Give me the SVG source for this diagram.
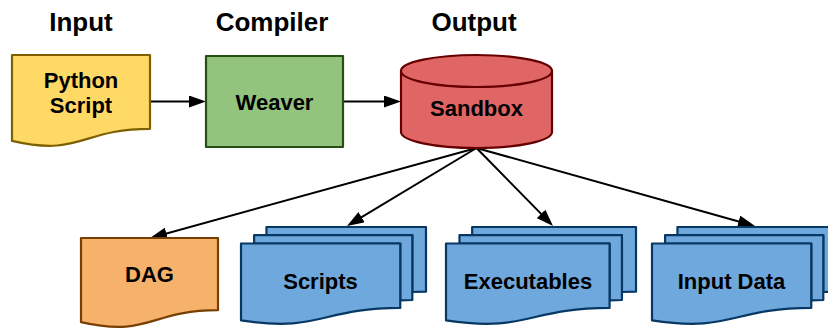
<svg xmlns="http://www.w3.org/2000/svg" width="828" height="330" viewBox="0 0 828 330">
  <style>
    text { font-family: "Liberation Sans", Arial, sans-serif; font-weight: bold; fill: #000; text-anchor: middle; }
    .hdr { font-size: 26px; }
    .lbl { font-size: 22px; }
    .shape { stroke-width: 2.2; stroke-linejoin: round; }
    .yellow { fill: #ffd966; stroke: #7f6000; }
    .green { fill: #93c47d; stroke: #274e13; }
    .red { fill: #e06666; stroke: #660000; }
    .orange { fill: #f6b26b; stroke: #783f04; }
    .blue { fill: #6fa8dc; stroke: #073763; }
    .edge { stroke: #000; stroke-width: 2; fill: none; marker-end: url(#arrow); }
  </style>
  <defs>
    <marker id="arrow" markerUnits="userSpaceOnUse" markerWidth="17" markerHeight="12" refX="13" refY="6" orient="auto">
      <path d="M0,0 L17,6 L0,12 Z" fill="#000"/>
    </marker>
    <!-- stacked pages, 185 wide -->
    <g id="pages185">
      <path class="shape blue" d="M25.45,8.15 L25.45,0 L185,0 L185,64.64 C178.15,64.64 171.3,64.98 171.3,64.98 L171.3,8.15 Z"/>
      <path class="shape blue" d="M13.12,16.5 L13.12,8.15 L171.3,8.15 L171.3,72.98 C165.3,72.98 159.26,73.43 159.26,73.43 L159.26,16.5 Z"/>
      <path class="shape blue" d="M0,93.33 C79.63,105.72 79.63,80.93 159.26,80.93 L159.26,16.5 L0,16.5 Z"/>
    </g>
    <!-- stacked pages, 190 wide -->
    <g id="pages190">
      <path class="shape blue" d="M26.14,8.15 L26.14,0 L190,0 L190,64.64 C182.96,64.64 175.93,64.98 175.93,64.98 L175.93,8.15 Z"/>
      <path class="shape blue" d="M13.48,16.5 L13.48,8.15 L175.93,8.15 L175.93,72.98 C169.75,72.98 163.57,73.43 163.57,73.43 L163.57,16.5 Z"/>
      <path class="shape blue" d="M0,93.33 C81.79,105.72 81.79,80.93 163.57,80.93 L163.57,16.5 L0,16.5 Z"/>
    </g>
  </defs>

  <rect width="828" height="330" fill="#fff"/>

  <!-- column headings -->
  <g id="headings">
    <text class="hdr" x="81" y="31">Input</text>
    <text class="hdr" x="272" y="31">Compiler</text>
    <text class="hdr" x="474" y="31">Output</text>
  </g>

  <!-- connectors -->
  <g id="connectors">
    <line class="edge" x1="150" y1="101.5" x2="202" y2="101.5"/>
    <line class="edge" x1="343" y1="101.5" x2="397" y2="101.5"/>
    <line class="edge" x1="476.5" y1="148" x2="153.86" y2="236.94"/>
    <line class="edge" x1="476.5" y1="148" x2="350.43" y2="223.94"/>
    <line class="edge" x1="476.5" y1="148" x2="550.2" y2="223.14"/>
    <line class="edge" x1="476.5" y1="148" x2="751.15" y2="224.92"/>
  </g>

  <g id="python-script">
    <path class="shape yellow" d="M12,55 H150 V128.8 C81,128.8 81,156.9 12,140.9 Z"/>
    <text class="lbl" x="81" y="88">Python</text>
    <text class="lbl" x="81" y="113">Script</text>
  </g>

  <g id="weaver">
    <rect class="shape green" x="206" y="56" width="137" height="91"/>
    <text class="lbl" x="274.5" y="110">Weaver</text>
  </g>

  <g id="sandbox">
    <path class="shape red" d="M401,71 V132 A75.5,16 0 0 0 552,132 V71 Z"/>
    <ellipse class="shape red" cx="476.5" cy="71" rx="75.5" ry="16"/>
    <text class="lbl" x="476.5" y="116">Sandbox</text>
  </g>

  <g id="dag">
    <path class="shape orange" d="M81,238 H218 V310.2 C149.5,310.2 149.5,337.7 81,322.1 Z"/>
    <text class="lbl" x="149.5" y="282">DAG</text>
  </g>

  <g id="scripts">
    <use href="#pages185" x="241" y="227"/>
    <text class="lbl" x="320.5" y="289">Scripts</text>
  </g>

  <g id="executables">
    <use href="#pages190" x="446" y="227"/>
    <text class="lbl" x="528" y="289">Executables</text>
  </g>

  <g id="input-data">
    <use href="#pages185" x="652" y="227"/>
    <text class="lbl" x="731.5" y="289">Input Data</text>
  </g>
</svg>
